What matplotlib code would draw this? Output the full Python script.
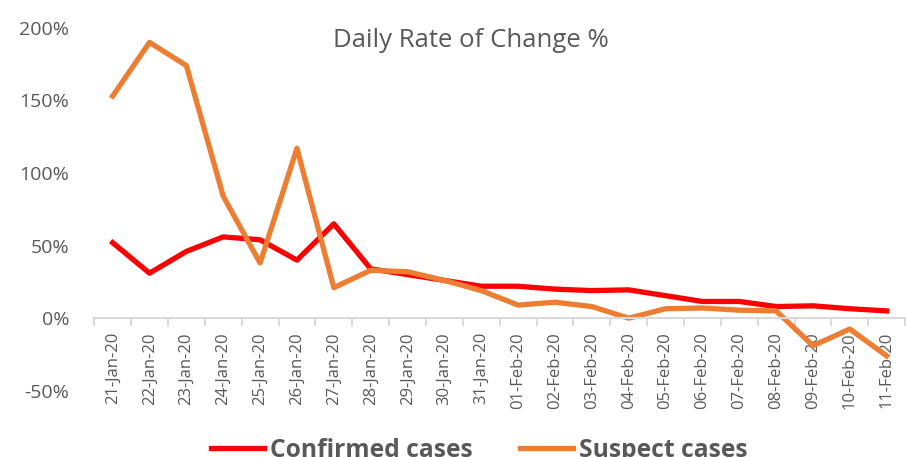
import matplotlib.pyplot as plt
from matplotlib.ticker import FuncFormatter, FixedLocator

# ==============================
# Data
# ==============================
dates = ["21-Jan-20", "22-Jan-20", "23-Jan-20", "24-Jan-20", "25-Jan-20",
         "26-Jan-20", "27-Jan-20", "28-Jan-20", "29-Jan-20", "30-Jan-20",
         "31-Jan-20", "01-Feb-20", "02-Feb-20", "03-Feb-20", "04-Feb-20",
         "05-Feb-20", "06-Feb-20", "07-Feb-20", "08-Feb-20", "09-Feb-20",
         "10-Feb-20", "11-Feb-20"]

confirmed = [52, 31, 46, 56, 54, 40, 65, 34, 30, 26,
             22, 22, 20, 19, 19.5, 15.5, 11.5, 11.5, 8, 8.5,
             6.5, 5]

suspect = [153, 190, 174, 84, 38, 117, 21, 33, 32, 26,
           19, 9, 11, 8, 0, 6.5, 7, 5.5, 5, -19,
           -7.5, -26]

grey = "#595959"
plt.rcParams["font.family"] = ["Open Sans", "DejaVu Sans"]

# ==============================
# Plot
# ==============================
fig = plt.figure(figsize=(9.06, 4.57), dpi=100)
ax = fig.add_axes([0.104, 0.145, 0.895, 0.794])

x = list(range(len(dates)))
ax.plot(x, confirmed, color="#FF0000", linewidth=3.8, label="Confirmed cases",
        solid_joinstyle="round")
ax.plot(x, suspect, color="#ED7D31", linewidth=3.8, label="Suspect cases",
        solid_joinstyle="round")

ax.set_xlim(-0.5, len(dates) - 0.5)
ax.set_ylim(-50, 200)
ax.set_yticks([-50, 0, 50, 100, 150, 200])
ax.yaxis.set_major_formatter(FuncFormatter(lambda v, p: f"{v:.0f}%"))

# category axis sits at 0%, tick marks between categories
ax.spines["bottom"].set_position(("data", 0))
ax.spines["bottom"].set_color("#D9D9D9")
ax.spines["bottom"].set_linewidth(1.5)
for s in ["left", "right", "top"]:
    ax.spines[s].set_visible(False)

ax.set_xticks(x)
ax.set_xticklabels(dates, rotation=90, fontsize=12, color=grey)
ax.tick_params(axis="x", which="major", length=0, pad=10)
ax.xaxis.set_minor_locator(FixedLocator([i - 0.5 for i in range(len(dates) + 1)]))
ax.tick_params(axis="x", which="minor", length=6, width=1.5, color="#D9D9D9")
ax.tick_params(axis="y", length=0, labelsize=14, labelcolor=grey, pad=18)

fig.text(0.52, 0.912, "Daily Rate of Change %", fontsize=18.5, color=grey,
         ha="center", va="center")

fig.legend(loc="center", bbox_to_anchor=(0.529, 0.015), ncol=2, frameon=False,
           prop={"size": 17.7, "weight": "bold"}, labelcolor=grey,
           handlelength=2.15, handletextpad=0.25, columnspacing=1.9)

plt.savefig("out.png", dpi=100)
